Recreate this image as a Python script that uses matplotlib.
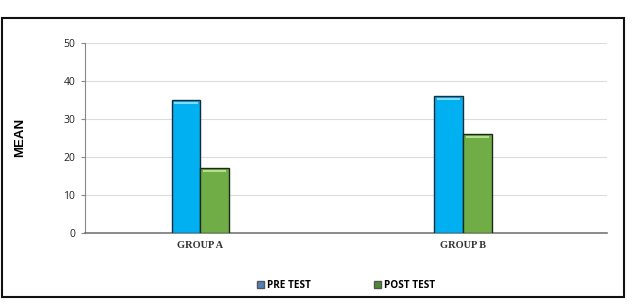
import numpy as np
import matplotlib
matplotlib.use('Agg')
import matplotlib.pyplot as plt
from matplotlib.patches import Rectangle, Patch

# donnees
groups = ['GROUP A', 'GROUP B']
pre_test = [35, 36]
post_test = [17, 26]
series_names = ['PRE TEST', 'POST TEST']
yticks = [0, 10, 20, 30, 40, 50]

blue = '#00B0F0'
green = '#70AD47'

fig = plt.figure(figsize=(6.32, 3.08), dpi=100)
W, H = 632, 308
# axes position in pixels : x 85 -> 607, y 43 -> 233
ax = fig.add_axes([85 / W, 1 - 233 / H, (607 - 85) / W, (233 - 43) / H])

x = np.arange(len(groups))
w = 0.11
ax.bar(x - w / 2, pre_test, w, color=blue, edgecolor='#1a2a3a', linewidth=1.0, zorder=3)
ax.bar(x + w / 2, post_test, w, color=green, edgecolor='#1a2a1a', linewidth=1.0, zorder=3)
# petit reflet clair en haut des barres
ax.bar(x - w / 2, [0.5] * 2, w * 0.8, bottom=np.array(pre_test) - 1.0, color='#7fdcff', zorder=4)
ax.bar(x + w / 2, [0.5] * 2, w * 0.8, bottom=np.array(post_test) - 1.0, color='#b5e08a', zorder=4)

ax.set_ylim(0, 50)
ax.set_xlim(-0.44, 1.55)
ax.set_yticks(yticks)
ax.set_yticklabels([str(t) for t in yticks], fontsize=7.5, family='Open Sans', color='#222222')
ax.set_xticks(x)
ax.set_xticklabels(groups, fontsize=7.5, family='Liberation Serif', fontweight='bold', color='#333333')
ax.tick_params(axis='x', length=0, pad=6)
ax.tick_params(axis='y', length=3, color='#888888', pad=4)
ax.grid(axis='y', color='#dcdcdc', linewidth=0.8, zorder=0)
for s in ['top', 'right']:
    ax.spines[s].set_visible(False)
ax.spines['left'].set_color('#888888')
ax.spines['bottom'].set_color('#777777')
ax.spines['bottom'].set_linewidth(1.2)

fig.text(20 / W, 1 - 137 / H, 'MEAN', rotation=90, ha='center', va='center',
         fontsize=9.5, fontweight='heavy', family='Liberation Sans')

handles = [Patch(facecolor='#4f81bd', edgecolor='#555555', label=series_names[0]),
           Patch(facecolor='#4f8a30', edgecolor='#555555', label=series_names[1])]
fig.legend(handles=handles, loc='center', bbox_to_anchor=(346 / W, 1 - 285 / H), ncol=2,
           frameon=False, prop={'family': 'Open Sans', 'weight': 'bold', 'size': 7.2},
           handlelength=0.7, handleheight=0.7, handletextpad=0.3, columnspacing=6.3)

# cadre exterieur
fig.patches.append(Rectangle((2 / W, 1 - 297 / H), 622 / W, 279 / H, transform=fig.transFigure,
                             fill=False, edgecolor='#111111', linewidth=1.5))

fig.savefig('out.png', dpi=100)
